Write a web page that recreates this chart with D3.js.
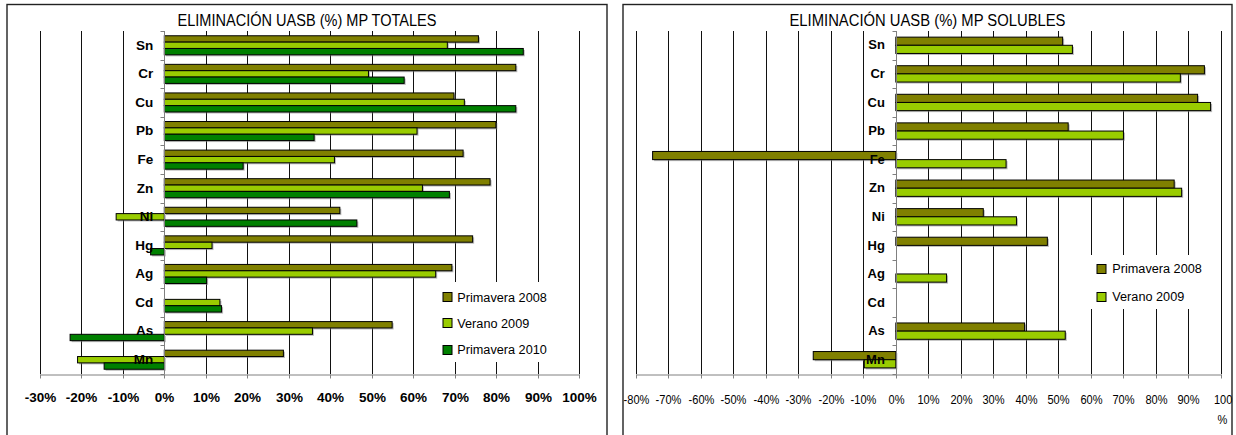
<!DOCTYPE html>
<html>
<head>
<meta charset="utf-8">
<script src="https://cdn.jsdelivr.net/npm/d3@7/dist/d3.min.js"></script>
<style>
  html, body { margin: 0; padding: 0; background: #fff; }
  svg { display: block; font-family: "Liberation Sans", Arial, sans-serif; }
</style>
</head>
<body>
<script>
// Metals, listed top to bottom
const categories = ["Sn", "Cr", "Cu", "Pb", "Fe", "Zn", "Ni", "Hg", "Ag", "Cd", "As", "Mn"];

// Removal (%) of total metals
const totalesPrimavera2008 = [75.7, 84.7, 69.8, 79.9, 72.0, 78.5, 42.3, 74.3, 69.3, null, 54.9, 28.7];
const totalesVerano2009    = [68.2, 49.2, 72.3, 60.9, 41.0, 62.2, -11.6, 11.5, 65.4, 13.4, 35.7, -20.9];
const totalesPrimavera2010 = [86.5, 57.8, 84.7, 36.1, 19.0, 68.7, 46.4, -3.3, 10.2, 13.8, -22.7, -14.5];

// Removal (%) of soluble metals
const solublesPrimavera2008 = [51.3, 94.9, 92.8, 53.0, -74.8, 85.6, 26.9, 46.6, null, null, 39.6, -25.4];
const solublesVerano2009    = [54.3, 87.5, 96.8, 70.0, 33.9, 87.9, 37.1, null, 15.6, null, 52.1, -9.7];

// Axis ticks (%)
const totalesTicks  = [-30, -20, -10, 0, 10, 20, 30, 40, 50, 60, 70, 80, 90, 100];
const solublesTicks = [-80, -70, -60, -50, -40, -30, -20, -10, 0, 10, 20, 30, 40, 50, 60, 70, 80, 90, 100];

const seriesColors = {
  "Primavera 2008": "#808000",
  "Verano 2009": "#99CC00",
  "Primavera 2010": "#008000"
};

const svg = d3.select("body").append("svg")
  .attr("width", 1236).attr("height", 435);

function drawPanel(opt) {
  const g = svg.append("g");
  const top = 31, bottom = 374;

  // panel frame (runs past the bottom edge)
  g.append("rect")
    .attr("x", opt.frame[0]).attr("y", 4.5)
    .attr("width", opt.frame[1] - opt.frame[0]).attr("height", 460)
    .attr("fill", "none").attr("stroke", "#222").attr("stroke-width", 1.4);

  const x = d3.scaleLinear().domain(opt.domain).range(opt.xRange);
  const nS = opt.series.length;
  const pad = 1.5 / (nS + 1.5);
  const y = d3.scaleBand().domain(categories).range([top, bottom])
    .paddingInner(pad).paddingOuter(pad / 2);
  const ys = d3.scaleBand().domain(d3.range(nS)).range([0, y.bandwidth()]);

  // vertical gridlines
  g.append("g").selectAll("line").data(opt.ticks).join("line")
    .attr("x1", d => Math.round(x(d)) + 0.5).attr("x2", d => Math.round(x(d)) + 0.5)
    .attr("y1", top).attr("y2", bottom)
    .attr("stroke", "#111").attr("stroke-width", 1);

  // legend background
  const L = opt.legend;
  g.append("rect").attr("x", L.x).attr("y", L.y).attr("width", L.w).attr("height", L.h)
    .attr("fill", "#fff");

  // bars
  opt.series.forEach((name, i) => {
    const vals = opt.values[i];
    const data = categories.map((c, j) => ({ c, v: vals[j] })).filter(d => d.v !== null);
    const bx = d => x(Math.min(0, d.v));
    const bw = d => Math.abs(x(d.v) - x(0));
    const by = d => y(d.c) + ys(i);
    g.append("g").selectAll("rect").data(data).join("rect")
      .attr("x", d => bx(d) + 1.5).attr("y", d => by(d) + 1.5)
      .attr("width", bw).attr("height", ys.bandwidth())
      .attr("fill", "#808080").attr("opacity", 0.55);
    g.append("g").selectAll("rect").data(data).join("rect")
      .attr("x", bx).attr("y", by)
      .attr("width", bw).attr("height", ys.bandwidth())
      .attr("fill", seriesColors[name]).attr("stroke", "#000").attr("stroke-width", 1);
  });

  // category axis at zero, with ticks on category boundaries
  const x0 = Math.round(x(0)) + 0.5;
  g.append("line").attr("x1", x0).attr("x2", x0).attr("y1", top).attr("y2", bottom)
    .attr("stroke", "#808080");
  const bounds = categories.map(c => y(c) - y.paddingInner() * y.step() / 2).concat([bottom]);
  g.append("g").selectAll("line").data(bounds).join("line")
    .attr("x1", x0 - 4).attr("x2", x0)
    .attr("y1", d => Math.round(d) + 0.5).attr("y2", d => Math.round(d) + 0.5)
    .attr("stroke", "#808080");

  // value axis
  const xAxis = d3.axisBottom(x).tickValues(opt.ticks).tickSize(4).tickSizeOuter(0)
    .tickFormat(d => d + "%");
  const ax = g.append("g").attr("transform", `translate(0,${bottom + 0.5})`).call(xAxis);
  ax.select(".domain").attr("stroke", "#808080");
  ax.selectAll(".tick line").attr("stroke", "#808080");
  ax.selectAll(".tick").attr("transform", d => `translate(${Math.round(x(d)) + 0.5},0)`);
  ax.selectAll(".tick text")
    .attr("y", opt.tickBaseline - bottom).attr("dy", 0)
    .attr("fill", "#000")
    .attr("font-family", "'Liberation Sans', Arial, sans-serif")
    .attr("font-size", opt.tickFont.size)
    .attr("font-weight", opt.tickFont.weight)
    .attr("transform", `scale(${opt.tickFont.sx},1)`);
  if (opt.wrapLast) {
    ax.selectAll(".tick text").filter(d => d === 100).each(function () {
      const t = d3.select(this).text("");
      t.append("tspan").attr("x", 2).text("100");
      t.append("tspan").attr("x", 1).attr("dy", 20).text("%");
    });
  }

  // category labels
  const yAxis = d3.axisLeft(y).tickSize(0).tickPadding(opt.labelGap);
  const ay = g.append("g").attr("transform", `translate(${x(0)},0)`).call(yAxis);
  ay.select(".domain").remove();
  ay.selectAll(".tick text")
    .attr("fill", "#000")
    .attr("font-family", "'Liberation Sans', Arial, sans-serif")
    .attr("font-weight", "bold").attr("font-size", opt.catFont);

  // title
  g.append("text")
    .attr("x", (opt.frame[0] + opt.frame[1]) / 2).attr("y", 26)
    .attr("text-anchor", "middle").attr("font-size", 16)
    .attr("textLength", opt.titleLength).attr("lengthAdjust", "spacingAndGlyphs")
    .text(opt.title);

  // legend
  opt.series.forEach((name, i) => {
    const cy = L.row0 + i * L.step;
    g.append("rect").attr("x", L.sx + 0.5).attr("y", Math.round(cy - 4.5) + 0.5)
      .attr("width", 9).attr("height", 9)
      .attr("fill", seriesColors[name]).attr("stroke", "#000");
    g.append("text")
      .attr("transform", `translate(${L.tx},${cy + 4.8}) scale(0.94,1)`)
      .attr("font-size", 13.5).attr("fill", "#000")
      .text(name);
  });
}

drawPanel({
  frame: [7, 607],
  domain: [-30, 100],
  xRange: [39.8, 579.3],
  ticks: totalesTicks,
  series: ["Primavera 2008", "Verano 2009", "Primavera 2010"],
  values: [totalesPrimavera2008, totalesVerano2009, totalesPrimavera2010],
  title: "ELIMINACIÓN UASB (%) MP TOTALES",
  titleLength: 259,
  tickFont: { size: 13.5, weight: "bold", sx: 1 },
  tickBaseline: 401.5,
  catFont: 13.5,
  labelGap: 11,
  wrapLast: false,
  legend: { x: 437, y: 282, w: 120, h: 80, sx: 442.5, tx: 457.3, row0: 296.7, step: 26.2 }
});

drawPanel({
  frame: [623, 1232],
  domain: [-80, 100],
  xRange: [635.7, 1221],
  ticks: solublesTicks,
  series: ["Primavera 2008", "Verano 2009"],
  values: [solublesPrimavera2008, solublesVerano2009],
  title: "ELIMINACIÓN UASB (%) MP SOLUBLES",
  titleLength: 276,
  tickFont: { size: 13.5, weight: "normal", sx: 0.82 },
  tickBaseline: 404,
  catFont: 13,
  labelGap: 11,
  wrapLast: true,
  legend: { x: 1080, y: 255, w: 130, h: 54, sx: 1096.5, tx: 1112.3, row0: 268.3, step: 27.7 }
});
</script>
</body>
</html>
